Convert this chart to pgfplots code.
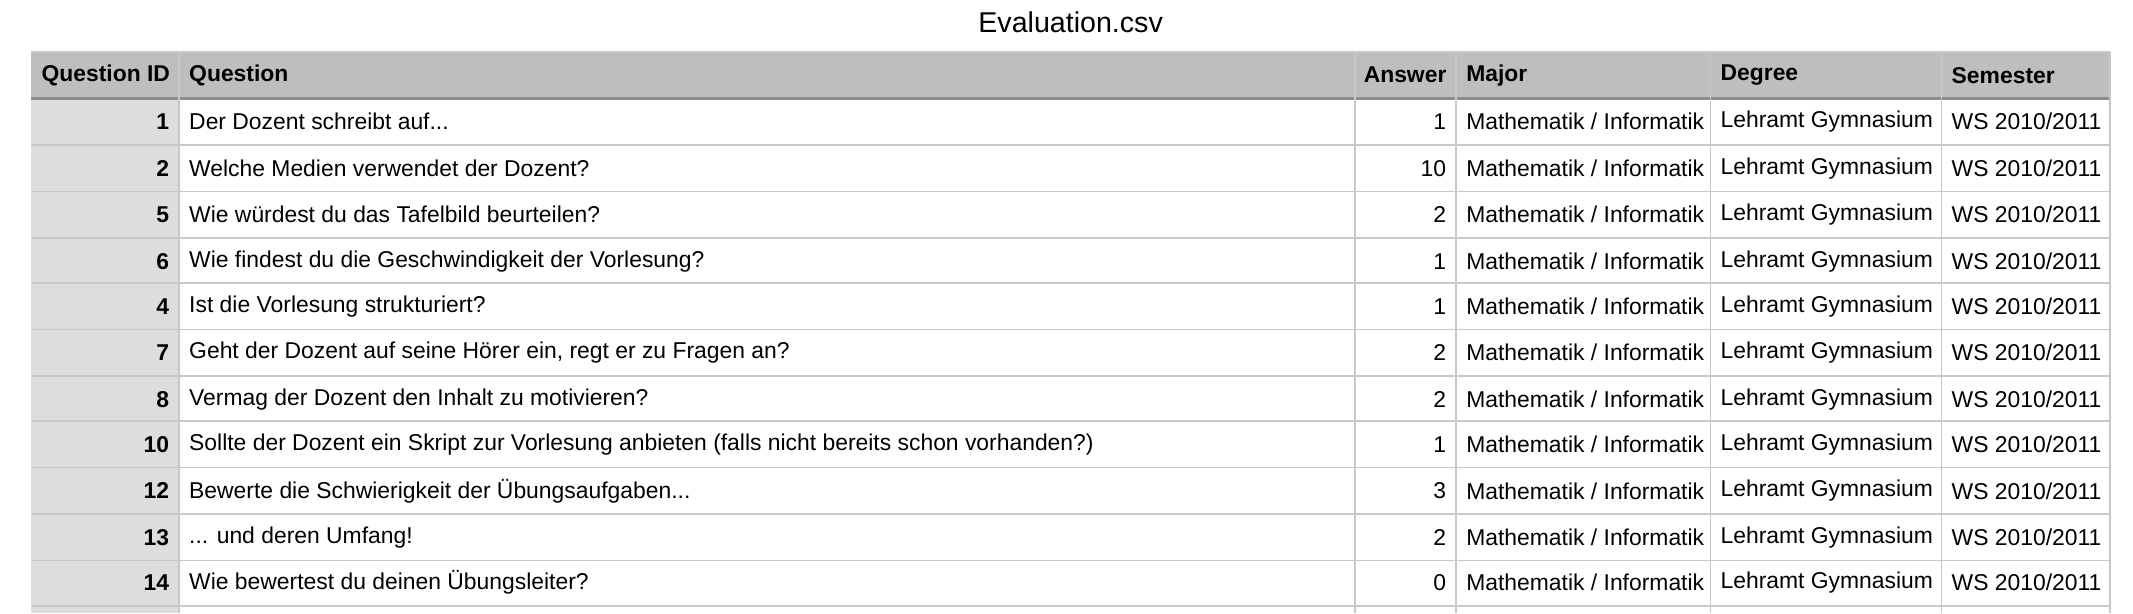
\documentclass[border=0pt]{standalone}
\usepackage{pgfplots}
\pgfplotsset{compat=1.18}
\usepackage{fontspec}
\setmainfont{Liberation Sans}
\definecolor{hdr}{HTML}{BDBFBE}
\definecolor{idc}{HTML}{DDDDDD}
\definecolor{grid}{HTML}{C8C8C8}
\newcommand{\rowtxt}[2]{%
  \node[anchor=west, inner sep=0pt] at (axis cs:138,#1) {#2};
  \node[anchor=west, inner sep=0pt] at (axis cs:1072,#1) {Mathematik / Informatik};
  \node[anchor=west, inner sep=0pt] at (axis cs:1258,#1) {Lehramt Gymnasium};
  \node[anchor=west, inner sep=0pt] at (axis cs:1427,#1) {WS 2010/2011};}
\newcommand{\hl}[1]{\draw[grid, line width=0.6pt] (axis cs:23,#1) -- (axis cs:1543,#1);}
\newcommand{\vl}[1]{\draw[grid, line width=0.6pt] (axis cs:#1,38) -- (axis cs:#1,448);}
\begin{document}
\fontsize{8.4}{10}\selectfont
\begin{tikzpicture}
\begin{axis}[scale only axis, width=780bp, height=224bp,
  xmin=0,xmax=1560,ymin=0,ymax=448, y dir=reverse,
  axis lines=none, clip=false, enlargelimits=false,
  nodes near coords, point meta=explicit symbolic,
  every node near coord/.style={anchor=east, font=\fontsize{8.4}{10}\selectfont, inner sep=0pt}]
\fill[white] (axis cs:0,0) rectangle (axis cs:1560,448);
\fill[hdr] (axis cs:23,38) rectangle (axis cs:1543,72);
\fill[idc] (axis cs:23,72) rectangle (axis cs:131,448);
\hl{106}\hl{140}\hl{174}\hl{207}\hl{241}\hl{275}\hl{308}\hl{342}\hl{376}\hl{410}\hl{443}\hl{38}
\draw[black!45, line width=0.8pt] (axis cs:23,72) -- (axis cs:1543,72);
\vl{131}\vl{991}\vl{1065}\vl{1251}\vl{1420}\vl{1543}
\node[font=\fontsize{10.5}{12}\selectfont] at (axis cs:783,16) {Evaluation.csv};
\node[anchor=west, font=\bfseries\fontsize{8.4}{10}\selectfont, inner sep=0pt] at (axis cs:30,55) {Question ID};
\node[anchor=west, font=\bfseries\fontsize{8.4}{10}\selectfont, inner sep=0pt] at (axis cs:138,55) {Question};
\node[anchor=west, font=\bfseries\fontsize{8.4}{10}\selectfont, inner sep=0pt] at (axis cs:997,55) {Answer};
\node[anchor=west, font=\bfseries\fontsize{8.4}{10}\selectfont, inner sep=0pt] at (axis cs:1072,55) {Major};
\node[anchor=west, font=\bfseries\fontsize{8.4}{10}\selectfont, inner sep=0pt] at (axis cs:1258,55) {Degree};
\node[anchor=west, font=\bfseries\fontsize{8.4}{10}\selectfont, inner sep=0pt] at (axis cs:1427,55) {Semester};
\addplot[draw=none, every node near coord/.append style={font=\bfseries\fontsize{8.4}{10}\selectfont}] coordinates {
(124,89)[1] (124,123)[2] (124,157)[5] (124,191)[6] (124,224)[4] (124,258)[7]
(124,292)[8] (124,325)[10] (124,359)[12] (124,393)[13] (124,426)[14]};
\addplot[draw=none] coordinates {
(1058,89)[1] (1058,123)[10] (1058,157)[2] (1058,191)[1] (1058,224)[1] (1058,258)[2]
(1058,292)[2] (1058,325)[1] (1058,359)[3] (1058,393)[2] (1058,426)[0]};
\rowtxt{89}{Der Dozent schreibt auf...}
\rowtxt{123}{Welche Medien verwendet der Dozent?}
\rowtxt{157}{Wie würdest du das Tafelbild beurteilen?}
\rowtxt{191}{Wie findest du die Geschwindigkeit der Vorlesung?}
\rowtxt{224}{Ist die Vorlesung strukturiert?}
\rowtxt{258}{Geht der Dozent auf seine Hörer ein, regt er zu Fragen an?}
\rowtxt{292}{Vermag der Dozent den Inhalt zu motivieren?}
\rowtxt{325}{Sollte der Dozent ein Skript zur Vorlesung anbieten (falls nicht bereits schon vorhanden?)}
\rowtxt{359}{Bewerte die Schwierigkeit der Übungsaufgaben...}
\rowtxt{393}{... und deren Umfang!}
\rowtxt{426}{Wie bewertest du deinen Übungsleiter?}
\end{axis}
\end{tikzpicture}
\end{document}
